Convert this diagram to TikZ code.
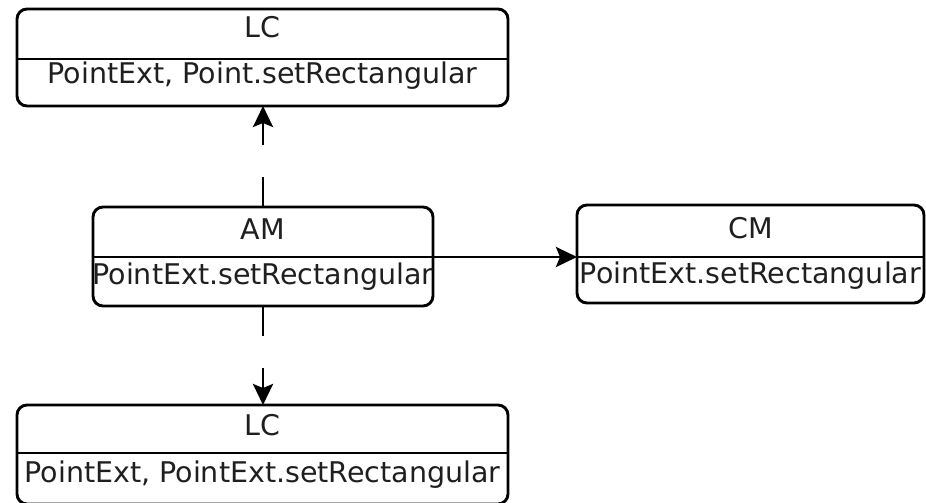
\documentclass[tikz,border=0pt]{standalone}
\usepackage{fontspec}
\setmainfont{DejaVu Sans}
\usetikzlibrary{arrows.meta}
\begin{document}
\begin{tikzpicture}[x=1pt,y=-1pt,
  box/.style={draw=black,line width=2.9pt,rounded corners=10pt,minimum width=#1,inner sep=0pt,outer sep=0pt},
  box/.default=100pt,
  divider/.style={draw=black,line width=2.9pt},
  label/.style={anchor=base,inner sep=0pt,font=\fontsize{28.5}{33}\selectfont,text=black!88},
  dasharrow/.style={line width=2.9pt,dash pattern=on 30pt off 32pt on 200pt,-{Stealth[length=21pt,width=20pt,inset=4pt]}},
  solidarrow/.style={line width=2.9pt,-{Stealth[length=21pt,width=20pt,inset=4pt]}}]
\useasboundingbox (0,0) rectangle (926,503);
% boxes
\node[box=491pt,minimum height=97pt] (lc1) at (262.5,57.5) {};
\node[box=340pt,minimum height=99pt] (am) at (263,256.5) {};
\node[box=347pt,minimum height=98pt] (cm) at (750.5,254) {};
\node[box=491pt,minimum height=99pt] (lc2) at (262.5,454.5) {};
% divider levels
\coordinate (d1) at (0,59);
\coordinate (d2) at (0,257);
\coordinate (d3) at (0,257);
\coordinate (d4) at (0,453);
\draw[divider] (lc1.west |- d1) -- (lc1.east |- d1);
\draw[divider] (am.west |- d2) -- (am.east |- d2);
\draw[divider] (cm.west |- d3) -- (cm.east |- d3);
\draw[divider] (lc2.west |- d4) -- (lc2.east |- d4);
% texts
\node[label] (lc1t) at (262.5,38) {LC};
\node[label] (lc1b) at (262.5,84) {PointExt, Point.setRectangular};
\node[label] (amt) at (263,239) {AM};
\node[label] (amb) at (263,284) {PointExt.setRectangular};
\node[label] (cmt) at (750.5,238) {CM};
\node[label] (cmb) at (750.5,283) {PointExt.setRectangular};
\node[label] (lc2t) at (262.5,435) {LC};
\node[label] (lc2b) at (262.5,482) {PointExt, PointExt.setRectangular};
% connectors
\draw[dasharrow] (am.north) -- (am.north |- lc1.south);
\draw[dasharrow] (am.south) -- (am.south |- lc2.north);
\draw[solidarrow] (am.east |- d2) -- (cm.west |- d2);
\end{tikzpicture}
\end{document}
